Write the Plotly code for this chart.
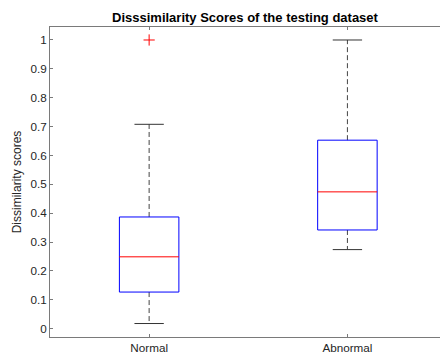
import plotly.graph_objects as go

categories = ["Normal", "Abnormal"]
positions = [1, 2]
q1 = [0.127, 0.342]
median = [0.249, 0.474]
q3 = [0.387, 0.653]
lower_whisker = [0.018, 0.274]
upper_whisker = [0.708, 1.0]
outlier_pos = [1]
outlier_val = [1.0]
y_ticks = [0, 0.1, 0.2, 0.3, 0.4, 0.5, 0.6, 0.7, 0.8, 0.9, 1]

BOX_HALF = 0.15
CAP_HALF = 0.074

fig = go.Figure()
for p, a, m, b, lo, hi in zip(positions, q1, median, q3, lower_whisker, upper_whisker):
    # whiskers (dashed)
    fig.add_trace(go.Scatter(x=[p, p, None, p, p], y=[b, hi, None, a, lo], mode="lines",
                             line=dict(color="#444444", width=1, dash="5px,3px"),
                             hoverinfo="skip", showlegend=False))
    # caps
    fig.add_trace(go.Scatter(x=[p - CAP_HALF, p + CAP_HALF, None, p - CAP_HALF, p + CAP_HALF],
                             y=[hi, hi, None, lo, lo], mode="lines",
                             line=dict(color="#333333", width=1),
                             hoverinfo="skip", showlegend=False))
    # box
    fig.add_trace(go.Scatter(x=[p - BOX_HALF, p + BOX_HALF, p + BOX_HALF, p - BOX_HALF, p - BOX_HALF],
                             y=[a, a, b, b, a], mode="lines",
                             line=dict(color="#0000FF", width=1),
                             hoverinfo="skip", showlegend=False))
    # median
    fig.add_trace(go.Scatter(x=[p - BOX_HALF, p + BOX_HALF], y=[m, m], mode="lines",
                             line=dict(color="#FF0000", width=1),
                             hoverinfo="skip", showlegend=False))

fig.add_trace(go.Scatter(x=outlier_pos, y=outlier_val, mode="markers",
                         marker=dict(symbol="cross-thin", size=8, color="#FF0000",
                                     line=dict(color="#FF0000", width=1)),
                         hoverinfo="skip", showlegend=False))

axis_font = dict(family="Liberation Sans, Arial, sans-serif", size=11.7, color="#262626")

fig.update_layout(
    width=441, height=358,
    margin=dict(l=50, r=1, t=27, b=21),
    paper_bgcolor="white", plot_bgcolor="white",
    title=dict(text="<b>Disssimilarity Scores of the testing dataset</b>",
               x=0.5555, xanchor="center",
               y=0.952, yanchor="middle",
               font=dict(family="Liberation Sans, Arial, sans-serif", size=13, color="#000000")),
    xaxis=dict(range=[0.5, 2.467], tickmode="array", tickvals=positions, ticktext=categories,
               showgrid=False, zeroline=False, showline=True, linecolor="#7a7a7a", linewidth=1,
               mirror="ticks", ticks="inside", ticklen=3, tickcolor="#7a7a7a",
               tickfont=axis_font),
    yaxis=dict(range=[-0.0287, 1.045], tickmode="array", tickvals=y_ticks,
               ticktext=[str(t) if t not in (0, 1) else str(int(t)) for t in y_ticks],
               showgrid=False, zeroline=False, showline=True, linecolor="#7a7a7a", linewidth=1,
               mirror=False, ticks="inside", ticklen=3, tickcolor="#7a7a7a",
               tickfont=axis_font,
               title=dict(text="Dissimilarity scores", standoff=6,
                          font=dict(family="Liberation Sans, Arial, sans-serif", size=12, color="#262626"))),
)

fig.write_html("out.html", config={"displayModeBar": False},
               post_script="document.body.style.margin='0px';")
